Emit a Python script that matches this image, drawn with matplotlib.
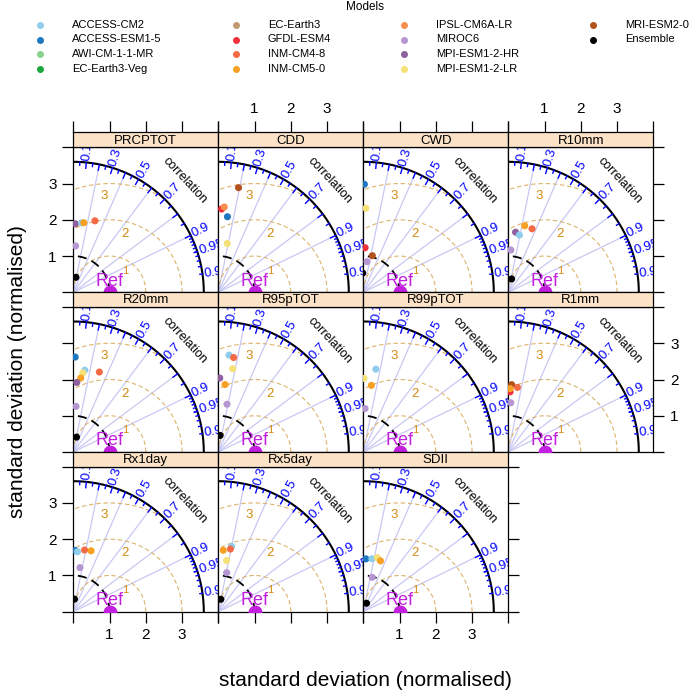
import numpy as np
import matplotlib.pyplot as plt
from matplotlib.lines import Line2D

plt.rcParams['font.family'] = ['Liberation Sans', 'DejaVu Sans']

# models and their colours (legend order)
models = ['ACCESS-CM2', 'ACCESS-ESM1-5', 'AWI-CM-1-1-MR', 'EC-Earth3-Veg',
          'EC-Earth3', 'GFDL-ESM4', 'INM-CM4-8', 'INM-CM5-0',
          'IPSL-CM6A-LR', 'MIROC6', 'MPI-ESM1-2-HR', 'MPI-ESM1-2-LR',
          'MRI-ESM2-0', 'Ensemble']
model_colours = ['#8ECDEB', '#1F78BF', '#86D38E', '#1BA83C',
                 '#C39A72', '#F0303C', '#F46A45', '#F7A023',
                 '#F78F4F', '#B596D3', '#8E619E', '#F5E277',
                 '#B2521E', '#000000']

indices = ['PRCPTOT', 'CDD', 'CWD', 'R10mm', 'R20mm', 'R95pTOT',
           'R99pTOT', 'R1mm', 'Rx1day', 'Rx5day', 'SDII']

# normalised standard deviation and correlation
prcptot_models = ['MPI-ESM1-2-HR', 'ACCESS-CM2', 'INM-CM5-0', 'INM-CM4-8', 'MIROC6', 'Ensemble']
prcptot_sd = [1.89, 1.93, 1.94, 2.06, 1.28, 0.42]
prcptot_cor = [0.03, 0.12, 0.15, 0.29, 0.05, 0.17]

cdd_models = ['MRI-ESM2-0', 'GFDL-ESM4', 'IPSL-CM6A-LR', 'ACCESS-ESM1-5', 'MPI-ESM1-2-LR']
cdd_sd = [2.94, 2.30, 2.36, 2.10, 1.37]
cdd_cor = [0.19, 0.04, 0.07, 0.12, 0.18]

cwd_models = ['ACCESS-ESM1-5', 'MPI-ESM1-2-LR', 'GFDL-ESM4', 'MRI-ESM2-0', 'MIROC6', 'Ensemble']
cwd_sd = [2.98, 2.32, 1.23, 1.04, 0.85, 0.53]
cwd_cor = [0.01, 0.03, 0.04, 0.24, 0.12, -0.03]

r10mm_models = ['INM-CM5-0', 'INM-CM4-8', 'MPI-ESM1-2-HR', 'ACCESS-CM2', 'MIROC6', 'Ensemble']
r10mm_sd = [1.89, 1.87, 1.67, 1.61, 1.17, 0.38]
r10mm_cor = [0.24, 0.35, 0.12, 0.19, 0.06, 0.24]

r20mm_models = ['ACCESS-ESM1-5', 'ACCESS-CM2', 'MPI-ESM1-2-LR', 'INM-CM5-0', 'INM-CM4-8',
                'MPI-ESM1-2-HR', 'MIROC6', 'Ensemble']
r20mm_sd = [2.62, 2.28, 2.20, 2.05, 2.32, 1.92, 1.26, 0.42]
r20mm_cor = [0.02, 0.14, 0.12, 0.10, 0.31, 0.05, 0.06, 0.21]

r95_models = ['ACCESS-CM2', 'INM-CM4-8', 'MPI-ESM1-2-LR', 'MPI-ESM1-2-HR', 'INM-CM5-0', 'MIROC6', 'Ensemble']
r95_sd = [2.69, 2.64, 2.33, 2.04, 1.87, 1.34, 0.46]
r95_cor = [0.11, 0.16, 0.17, 0.02, 0.10, 0.18, 0.11]

r99_models = ['ACCESS-CM2', 'INM-CM5-0', 'MPI-ESM1-2-LR', 'MIROC6']
r99_sd = [2.31, 1.85, 2.03, 1.20]
r99_cor = [0.15, 0.12, 0.01, 0.04]

r1mm_models = ['MRI-ESM2-0', 'INM-CM4-8', 'GFDL-ESM4', 'INM-CM5-0', 'MIROC6']
r1mm_sd = [1.86, 1.80, 1.66, 1.75, 1.36]
r1mm_cor = [0.05, 0.14, 0.03, 0.03, 0.05]

rx1_models = ['ACCESS-ESM1-5', 'ACCESS-CM2', 'INM-CM4-8', 'INM-CM5-0', 'MIROC6', 'Ensemble']
rx1_sd = [1.69, 1.66, 1.73, 1.75, 1.23, 0.35]
rx1_cor = [0.03, 0.07, 0.18, 0.28, 0.15, 0.09]

rx5_models = ['ACCESS-CM2', 'INM-CM4-8', 'INM-CM5-0', 'MPI-ESM1-2-LR', 'MIROC6', 'Ensemble']
rx5_sd = [1.84, 1.76, 1.70, 1.43, 1.10, 0.35]
rx5_cor = [0.20, 0.19, 0.08, 0.16, 0.21, 0.20]

sdii_models = ['ACCESS-ESM1-5', 'ACCESS-CM2', 'MPI-ESM1-2-LR', 'INM-CM5-0', 'MIROC6', 'Ensemble']
sdii_sd = [1.46, 1.48, 1.54, 1.48, 0.98, 0.25]
sdii_cor = [0.05, 0.16, 0.25, 0.32, 0.25, 0.36]

panels = [(prcptot_models, prcptot_sd, prcptot_cor), (cdd_models, cdd_sd, cdd_cor),
          (cwd_models, cwd_sd, cwd_cor), (r10mm_models, r10mm_sd, r10mm_cor),
          (r20mm_models, r20mm_sd, r20mm_cor), (r95_models, r95_sd, r95_cor),
          (r99_models, r99_sd, r99_cor), (r1mm_models, r1mm_sd, r1mm_cor),
          (rx1_models, rx1_sd, rx1_cor), (rx5_models, rx5_sd, rx5_cor),
          (sdii_models, sdii_sd, sdii_cor)]

colour_of = dict(zip(models, model_colours))

W, H = 692, 694
fig = plt.figure(figsize=(W / 100, H / 100), dpi=100)


def box(x, y, w, h):
    return [x / W, 1 - (y + h) / H, w / W, h / H]


maxsd = 3.6
lim = 4.0
ref_col = '#C21FDE'
rms_col = '#DDB36A'
rms_txt = '#D48A10'
corr_col = '#0000FF'
grid_col = '#C8C8F4'

left0, top0, pw, ph, strip_h, row_step = 73.3, 147.3, 145, 145, 15, 159.7

for k, (name, (mods, sds, cors)) in enumerate(zip(indices, panels)):
    r, c = divmod(k, 4)
    x0 = left0 + c * pw
    y0 = top0 + r * row_step
    ax = fig.add_axes(box(x0, y0, pw, ph))
    ax.set_xlim(0, lim)
    ax.set_ylim(0, lim)
    for s in ax.spines.values():
        s.set_linewidth(0.9)

    # radial correlation lines
    for gc in [0.2, 0.4, 0.6, 0.8, 0.9]:
        ax.plot([0, maxsd * gc], [0, maxsd * np.sqrt(1 - gc ** 2)], color=grid_col, lw=0.9, zorder=1)

    # rms circles around the reference
    th = np.linspace(0, np.pi, 400)
    for g in [1, 2, 3]:
        cx = 1 + g * np.cos(th)
        cy = g * np.sin(th)
        ok = (cx ** 2 + cy ** 2 <= maxsd ** 2) & (cx >= 0)
        cx = np.where(ok, cx, np.nan)
        ax.plot(cx, cy, color=rms_col, lw=0.8, dashes=(4, 2.5), zorder=1)

    # sd = 1 arc and outer arc
    th2 = np.linspace(0, np.pi / 2, 200)
    ax.plot(np.cos(th2), np.sin(th2), color='black', lw=1.3, dashes=(5, 3), zorder=2)
    ax.plot(maxsd * np.cos(th2), maxsd * np.sin(th2), color='black', lw=1.5, zorder=2)

    # correlation ticks
    for vals, frac in [(np.arange(0.1, 0.91, 0.1), 0.955), (np.arange(0.05, 0.96, 0.1), 0.975),
                       (np.arange(0.91, 0.995, 0.01), 0.98)]:
        a = np.arccos(vals)
        for ai in a:
            ax.plot([maxsd * np.cos(ai), frac * maxsd * np.cos(ai)],
                    [maxsd * np.sin(ai), frac * maxsd * np.sin(ai)], color=corr_col, lw=1.0, zorder=2)
    for lab in ['0.1', '0.3', '0.5', '0.7', '0.9', '0.95', '0.99']:
        a = np.arccos(float(lab))
        ax.text(1.015 * maxsd * np.cos(a), 1.015 * maxsd * np.sin(a), lab, rotation=np.degrees(a),
                rotation_mode='anchor', ha='left', va='center', color=corr_col, fontsize=9.5, clip_on=True)
    ax.text(1.21 * maxsd * np.cos(np.pi / 4), 1.21 * maxsd * np.sin(np.pi / 4), 'correlation',
            rotation=-47, ha='center', va='center', fontsize=9, clip_on=True)

    # rms labels
    for g, (lx, ly, fs) in zip([1, 2, 3], [(1.43, 0.6, 8), (1.42, 1.61, 9.5), (0.85, 2.66, 9.5)]):
        ax.text(lx, ly, str(g), color=rms_txt, fontsize=fs, ha='center', va='center', clip_on=True)

    # reference point
    ax.plot([1], [0], 'o', color=ref_col, ms=9, zorder=4, clip_on=True)
    ax.text(1.0, 0.18, 'Ref', color=ref_col, fontsize=13, ha='center', va='baseline', zorder=4, clip_on=True)

    # model points
    xs = [s * cr for s, cr in zip(sds, cors)]
    ys = [s * np.sqrt(1 - cr ** 2) for s, cr in zip(sds, cors)]
    ax.scatter(xs, ys, s=26, c=[colour_of[m] for m in mods], zorder=5, linewidths=0)

    # axes ticks on outer edges (lattice style)
    is_left = c == 0
    is_right = (c == 3) or (k == len(indices) - 1)
    is_bottom = r == 2
    ax.set_xticks([0, 1, 2, 3, 4])
    ax.set_yticks([0, 1, 2, 3, 4])
    ax.set_xticklabels(['', '1', '2', '3', ''])
    ax.set_yticklabels(['', '1', '2', '3', ''])
    ax.tick_params(direction='out', length=8, width=0.9, labelsize=11, pad=4,
                   left=is_left, labelleft=is_left and r != 1,
                   right=is_right, labelright=is_right and r == 1,
                   bottom=is_bottom, labelbottom=is_bottom and c in (0, 2),
                   top=False, labeltop=False)

    # strip
    sax = fig.add_axes(box(x0, y0 - strip_h, pw, strip_h))
    sax.set_facecolor('#FCE3C8')
    sax.set_xlim(0, lim)
    sax.set_ylim(0, 1)
    sax.set_yticks([])
    for s in sax.spines.values():
        s.set_linewidth(0.9)
    sax.text(lim / 2, 0.45, name, ha='center', va='center', fontsize=9.5)
    if r == 0:
        sax.set_xticks([0, 1, 2, 3, 4])
        sax.set_xticklabels(['', '1', '2', '3', ''])
        sax.tick_params(direction='out', length=8, width=0.9, labelsize=11, pad=4,
                        bottom=False, labelbottom=False, top=True, labeltop=c in (1, 3))
    else:
        sax.set_xticks([])

# legend
fig.text(365 / W, 1 - 7 / H, 'Models', ha='center', va='center', fontsize=8.5)
col_x = [40, 236, 404, 593]
for i, (m, col) in enumerate(zip(models, model_colours)):
    cc, rr = divmod(i, 4)
    yy = 1 - (25 + rr * 14.5) / H
    fig.add_artist(Line2D([col_x[cc] / W], [yy], marker='o', ms=4, color=col, lw=0))
    fig.text((col_x[cc] + 32) / W, yy, m, ha='left', va='center', fontsize=8)

fig.text(18 / W, 1 - 372 / H, 'standard deviation (normalised)', rotation=90,
         ha='center', va='center', fontsize=15)
fig.text(365 / W, 1 - 680 / H, 'standard deviation (normalised)',
         ha='center', va='center', fontsize=15)

fig.savefig('out.png', dpi=100)
